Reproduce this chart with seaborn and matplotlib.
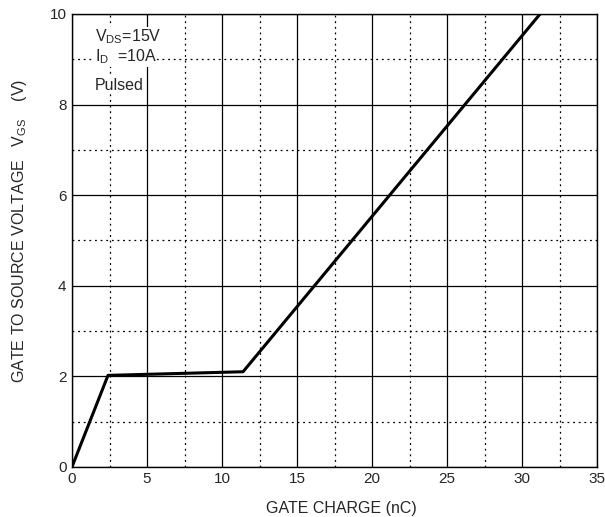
import pandas as pd
import seaborn as sns
import matplotlib.pyplot as plt
from matplotlib.ticker import MultipleLocator

# gate charge curve (nC, V)
gate_charge = [0.0, 2.4, 11.4, 31.2]
vgs = [0.0, 2.02, 2.1, 10.0]

x_ticks = [0, 5, 10, 15, 20, 25, 30, 35]
y_ticks = [0, 2, 4, 6, 8, 10]

df = pd.DataFrame({"Qg": gate_charge, "Vgs": vgs})

sns.set_style("white")
plt.rcParams['font.family'] = ['Liberation Sans', 'DejaVu Sans']
plt.rcParams['mathtext.fontset'] = 'custom'
plt.rcParams['mathtext.rm'] = 'Liberation Sans'

fig = plt.figure(figsize=(6.05, 5.17), dpi=100)
ax = fig.add_axes([0.119, 0.097, 0.868, 0.876])

sns.lineplot(data=df, x="Qg", y="Vgs", color="black", linewidth=2.2, ax=ax)

ax.set_xlim(0, 35)
ax.set_ylim(0, 10)
ax.set_xticks(x_ticks)
ax.set_yticks(y_ticks)
ax.xaxis.set_minor_locator(MultipleLocator(2.5))
ax.yaxis.set_minor_locator(MultipleLocator(1))
ax.grid(which="major", color="black", linewidth=0.9, linestyle="-")
ax.grid(which="minor", color="black", linewidth=0.9, linestyle=(0, (1.5, 3)))
ax.set_axisbelow(True)
ax.tick_params(which="both", length=0, labelsize=11, pad=4)
for s in ax.spines.values():
    s.set_color("black")
    s.set_linewidth(1.0)

ax.set_xlabel("GATE CHARGE (nC)", fontsize=11.5)
ax.xaxis.set_label_coords(0.513, -0.075)
ax.set_ylabel(r"GATE TO SOURCE VOLTAGE   V$_{\mathregular{GS}}$    (V)", fontsize=11.5)
ax.yaxis.set_label_coords(-0.082, 0.52)

ax.text(1.5, 9.5, r"V$_{\mathregular{DS}}$=15V", fontsize=11.5, va="center",
        bbox=dict(facecolor="white", edgecolor="none", pad=0.5))
ax.text(1.5, 9.05, r"I$_{\mathregular{D}}$  =10A", fontsize=11.5, va="center",
        bbox=dict(facecolor="white", edgecolor="none", pad=0.5))
ax.text(1.5, 8.43, "Pulsed", fontsize=11.5, va="center",
        bbox=dict(facecolor="white", edgecolor="none", pad=0.5))

plt.savefig("out.png", dpi=100)
